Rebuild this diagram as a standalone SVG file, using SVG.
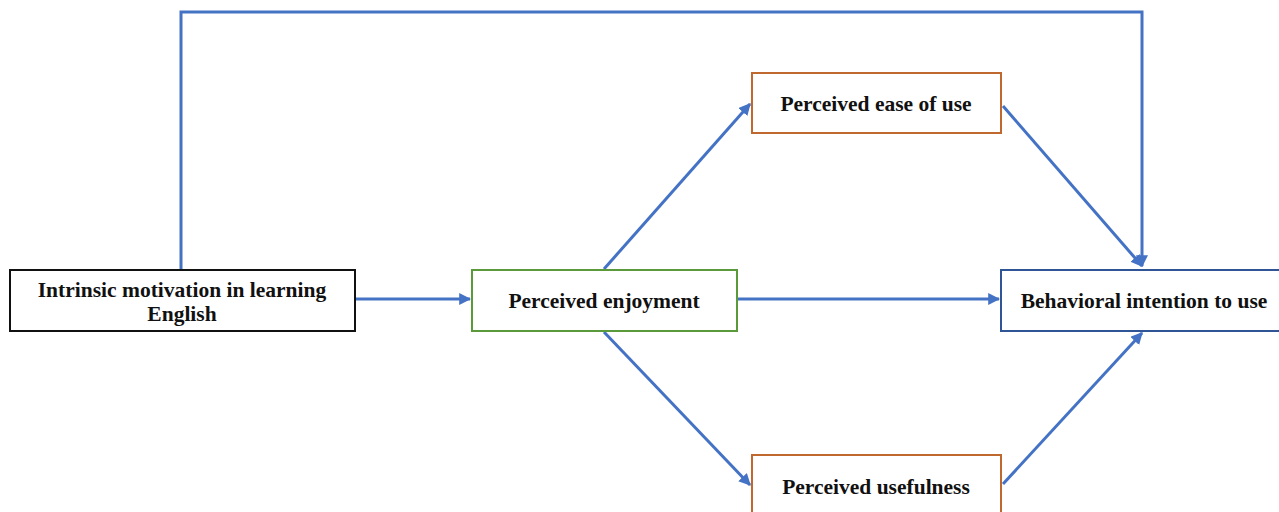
<svg xmlns="http://www.w3.org/2000/svg" width="1279" height="512" viewBox="0 0 1279 512">
<style>
.box{fill:#fff;stroke-width:2}
.t{font-family:"Liberation Serif","Times New Roman",serif;font-weight:bold;font-size:21.5px;fill:#111;text-anchor:middle}
.c{fill:none;stroke:#4472C4;stroke-width:3}
</style>
<defs>
<marker id="ah" viewBox="0 0 10 10" refX="9" refY="5" markerWidth="4" markerHeight="4" orient="auto" markerUnits="strokeWidth">
<path d="M0,0 L10,5 L0,10 z" fill="#4472C4"/>
</marker>
</defs>
<rect width="1279" height="512" fill="#fff"/>
<g id="connectors">
<path class="c" d="M181,270 L181,12 L1142,12 L1142,266" marker-end="url(#ah)"/>
<path class="c" d="M356,299 L470,299" marker-end="url(#ah)"/>
<path class="c" d="M738,299 L999,299" marker-end="url(#ah)"/>
<path class="c" d="M604,269 L750,104" marker-end="url(#ah)"/>
<path class="c" d="M604,332 L750,485" marker-end="url(#ah)"/>
<path class="c" d="M1003,106 L1142,266" marker-end="url(#ah)"/>
<path class="c" d="M1003,484 L1142,333" marker-end="url(#ah)"/>
</g>
<g id="intrinsic">
<rect class="box" x="10" y="270" width="345" height="61" stroke="#111"/>
<text class="t" x="182" y="297">Intrinsic motivation in learning</text>
<text class="t" x="182" y="321">English</text>
</g>
<g id="enjoyment">
<rect class="box" x="472" y="270" width="265" height="61" stroke="#5A9A3A"/>
<text class="t" x="604" y="308">Perceived enjoyment</text>
</g>
<g id="ease">
<rect class="box" x="752" y="73" width="249" height="60" stroke="#C0692E"/>
<text class="t" x="876" y="111">Perceived ease of use</text>
</g>
<g id="usefulness">
<rect class="box" x="752" y="455" width="249" height="70" stroke="#C0692E"/>
<text class="t" x="876" y="494">Perceived usefulness</text>
</g>
<g id="intention">
<rect class="box" x="1001" y="270" width="285" height="61" stroke="#2F5597"/>
<text class="t" x="1144" y="308">Behavioral intention to use</text>
</g>
</svg>
